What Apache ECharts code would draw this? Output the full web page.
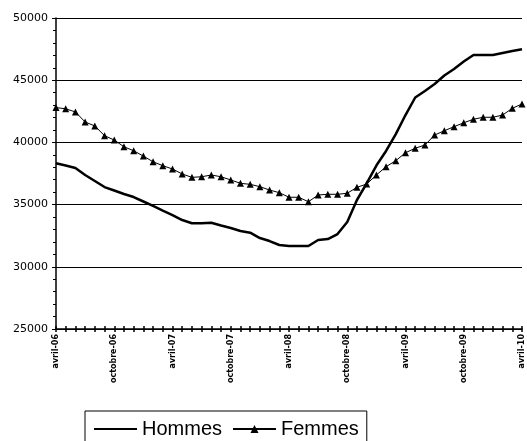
<!DOCTYPE html>
<html>
<head>
<meta charset="utf-8">
<script src="https://cdn.jsdelivr.net/npm/echarts@6/dist/echarts.min.js"></script>
<style>html,body{margin:0;padding:0;background:#fff;}#c{width:527px;height:441px;}</style>
</head>
<body>
<div id="c"></div>
<script>
const years = ['06','07','08','09','10'];
const months = ['avril','mai','juin','juillet','août','septembre','octobre','novembre','décembre','janvier','février','mars'];
const categories = [];
for (let i = 0; i <= 48; i++) {
  const m = i % 12;
  const y = Math.floor((i + 3) / 12);
  categories.push(months[m] + '-' + years[y]);
}
const yTicks = [25000, 30000, 35000, 40000, 45000, 50000];
const hommes = [38320,38140,37940,37380,36900,36410,36130,35850,35610,35250,34890,34520,34160,33760,33500,33500,
  33540,33320,33120,32880,32740,32310,32070,31750,31670,31670,31670,32150,32230,32630,33600,35370,
  36710,38140,39310,40670,42200,43610,44130,44690,45380,45900,46500,47030,47030,47030,47190,47350,47480];
const femmes = [42800,42700,42450,41640,41320,40540,40190,39650,39330,38900,38440,38130,37860,37460,37190,37240,
  37380,37240,36980,36710,36630,36440,36170,35960,35590,35590,35230,35770,35830,35830,35910,36390,
  36650,37380,38050,38530,39170,39530,39790,40590,40940,41260,41580,41860,42020,42020,42200,42740,43090];

const chart = echarts.init(document.getElementById('c'), null, {renderer: 'canvas'});
chart.setOption({
  animation: false,
  backgroundColor: '#fff',
  grid: {left: 56, right: 5, top: 18, bottom: 112, containLabel: false},
  xAxis: [{
    type: 'category', data: categories, boundaryGap: false, position: 'bottom',
    axisLine: {lineStyle: {color: '#000', width: 1.5}},
    axisTick: {show: true, interval: 0, length: 3, lineStyle: {color: '#000', width: 1.5}},
    axisLabel: {interval: 5, rotate: 90, fontSize: 8, fontWeight: 'bold', fontFamily: 'DejaVu Sans', color: '#000', margin: 5},
    splitLine: {show: false}
  }, {
    type: 'category', data: categories, boundaryGap: false, position: 'bottom',
    axisLine: {show: false},
    axisTick: {show: true, inside: true, interval: 0, length: 3, lineStyle: {color: '#000', width: 1.5}},
    axisLabel: {show: false},
    splitLine: {show: false}
  }],
  yAxis: {
    type: 'value', min: yTicks[0], max: yTicks[yTicks.length - 1], interval: 5000,
    axisLine: {show: true, lineStyle: {color: '#000', width: 1.5}},
    axisTick: {show: true, length: 4, lineStyle: {color: '#000'}},
    minorTick: {show: true, splitNumber: 5, length: 3, lineStyle: {color: '#000'}},
    axisLabel: {fontSize: 11, fontFamily: 'DejaVu Sans', color: '#000', margin: 8, formatter: function (v) { return String(v); }},
    splitLine: {show: true, lineStyle: {color: '#000', width: 1}}
  },
  legend: {
    left: 85, top: 411, orient: 'horizontal',
    borderColor: '#000', borderWidth: 1, borderRadius: 0,
    padding: [8, 8, 8, 8], itemGap: 10, itemWidth: 43, itemHeight: 10,
    textStyle: {fontSize: 20, fontFamily: 'Liberation Sans', color: '#000'},
    data: [{name: 'Hommes'}, {name: 'Femmes'}]
  },
  series: [{
    name: 'Hommes', type: 'line', data: hommes, showSymbol: false, symbol: 'none',
    lineStyle: {color: '#000', width: 2.5}, itemStyle: {color: 'rgba(0,0,0,0)', borderWidth: 0}
  }, {
    name: 'Femmes', type: 'line', data: femmes, symbol: 'triangle', symbolSize: 7, showAllSymbol: true,
    lineStyle: {color: '#000', width: 1}, itemStyle: {color: '#000'}
  }]
});
</script>
</body>
</html>
